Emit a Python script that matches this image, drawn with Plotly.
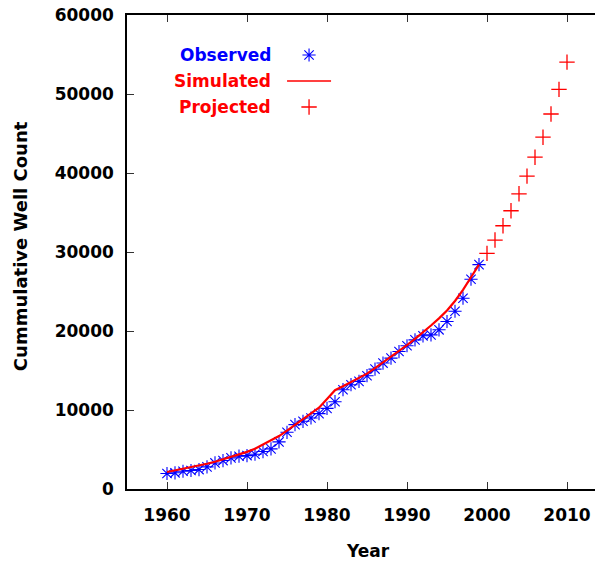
import plotly.graph_objects as go

# Observed cumulative well counts, 1960-1999
obs_years = list(range(1960, 2000))
obs_counts = [
    1960, 2050, 2250, 2340, 2460, 2800, 3300, 3600, 3940, 4150,
    4230, 4400, 4740, 5080, 5960, 7180, 8150, 8570, 8990, 9540,
    10210, 11050, 12570, 13200, 13620, 14340, 15180, 15940, 16570, 17400,
    18130, 18880, 19390, 19510, 20150, 21200, 22500, 24150, 26550, 28400,
]

# Simulated cumulative well counts, 1960-1999
sim_years = list(range(1960, 2000))
sim_counts = [
    2150, 2350, 2550, 2750, 2950, 3200, 3450, 3750, 4050, 4350,
    4700, 5100, 5600, 6100, 6700, 7400, 8100, 8800, 9500, 10300,
    11400, 12500, 13000, 13500, 14000, 14600, 15300, 16000, 16700, 17400,
    18200, 19000, 19800, 20700, 21600, 22600, 23800, 25200, 26800, 28400,
]

# Projected cumulative well counts, 2000-2010
proj_years = list(range(2000, 2011))
proj_counts = [29830, 31510, 33320, 35220, 37370, 39600, 42000, 44530, 47470, 50590, 54040]

x_ticks = [1960, 1970, 1980, 1990, 2000, 2010]
y_ticks = [0, 10000, 20000, 30000, 40000, 50000, 60000]
y_tick_labels = ["0", "10000", "20000", "30000", "40000", "50000", "60000"]

legend_names = ["Observed", "Simulated", "Projected"]

BLUE = "#0000ff"
RED = "#ff0000"
FONT = "DejaVu Sans"

star = dict(symbol="asterisk-open", size=11, color=BLUE, line=dict(color=BLUE, width=1.1))
plus = dict(symbol="cross-thin-open", size=11, color=RED, line=dict(color=RED, width=1.3))

fig = go.Figure()

fig.add_trace(go.Scatter(x=obs_years, y=obs_counts, mode="markers",
                         marker=star, showlegend=False))
fig.add_trace(go.Scatter(x=sim_years, y=sim_counts, mode="lines",
                         line=dict(color=RED, width=2.2), showlegend=False))
fig.add_trace(go.Scatter(x=proj_years, y=proj_counts, mode="markers",
                         marker=plus, showlegend=False))

# Key samples drawn on a hidden overlay axis spanning the plot area (0..1)
key_x = 0.389
key_rows = [0.9156, 0.8608, 0.8059]
fig.add_trace(go.Scatter(x=[key_x], y=[key_rows[0]], mode="markers", xaxis="x2", yaxis="y2",
                         marker=star, showlegend=False, hoverinfo="skip"))
fig.add_trace(go.Scatter(x=[0.342, 0.436], y=[key_rows[1], key_rows[1]], mode="lines",
                         xaxis="x2", yaxis="y2", line=dict(color=RED, width=1.3),
                         showlegend=False, hoverinfo="skip"))
fig.add_trace(go.Scatter(x=[key_x], y=[key_rows[2]], mode="markers", xaxis="x2", yaxis="y2",
                         marker=plus, showlegend=False, hoverinfo="skip"))

annotations = []
for name, row, col in zip(legend_names, key_rows, [BLUE, RED, RED]):
    annotations.append(dict(
        x=0.312, y=row, xref="paper", yref="paper", text=name, showarrow=False,
        xanchor="right", yanchor="middle",
        font=dict(family=FONT, size=17, color=col, weight="bold"),
    ))

# Axis titles
annotations.append(dict(
    x=0.514, y=-0.131, xref="paper", yref="paper", text="Year", showarrow=False,
    xanchor="center", yanchor="middle",
    font=dict(family=FONT, size=17, color="black", weight="bold"),
))
annotations.append(dict(
    x=-0.229, y=0.512, xref="paper", yref="paper", text="Cummulative Well Count",
    showarrow=False, textangle=-90, xanchor="center", yanchor="middle",
    font=dict(family=FONT, size=18, color="black", weight="bold"),
))

tickfont = dict(family=FONT, size=17, color="black", weight="bold")

fig.update_layout(
    width=595, height=561,
    margin=dict(l=127, r=0, t=15, b=72),
    paper_bgcolor="white", plot_bgcolor="white",
    showlegend=False,
    annotations=annotations,
    xaxis=dict(
        range=[1955, 2013.5], tickvals=x_ticks, ticks="inside", ticklen=7, tickwidth=1.3,
        tickcolor="#333333", showline=True, linecolor="black", linewidth=1.5,
        mirror="ticks", showgrid=False, zeroline=False, tickfont=tickfont,
        ticklabelstandoff=10,
    ),
    yaxis=dict(
        range=[0, 60000], tickvals=y_ticks, ticktext=y_tick_labels, ticks="inside",
        ticklen=7, tickwidth=1.3,
        tickcolor="#333333", showline=True, linecolor="black", linewidth=1.5,
        mirror=False, showgrid=False, zeroline=False, tickfont=tickfont,
        ticklabelstandoff=8,
    ),
    xaxis2=dict(range=[0, 1], overlaying="x", visible=False, fixedrange=True),
    yaxis2=dict(range=[0, 1], overlaying="y", visible=False, fixedrange=True),
)

fig.write_html("out.html")
